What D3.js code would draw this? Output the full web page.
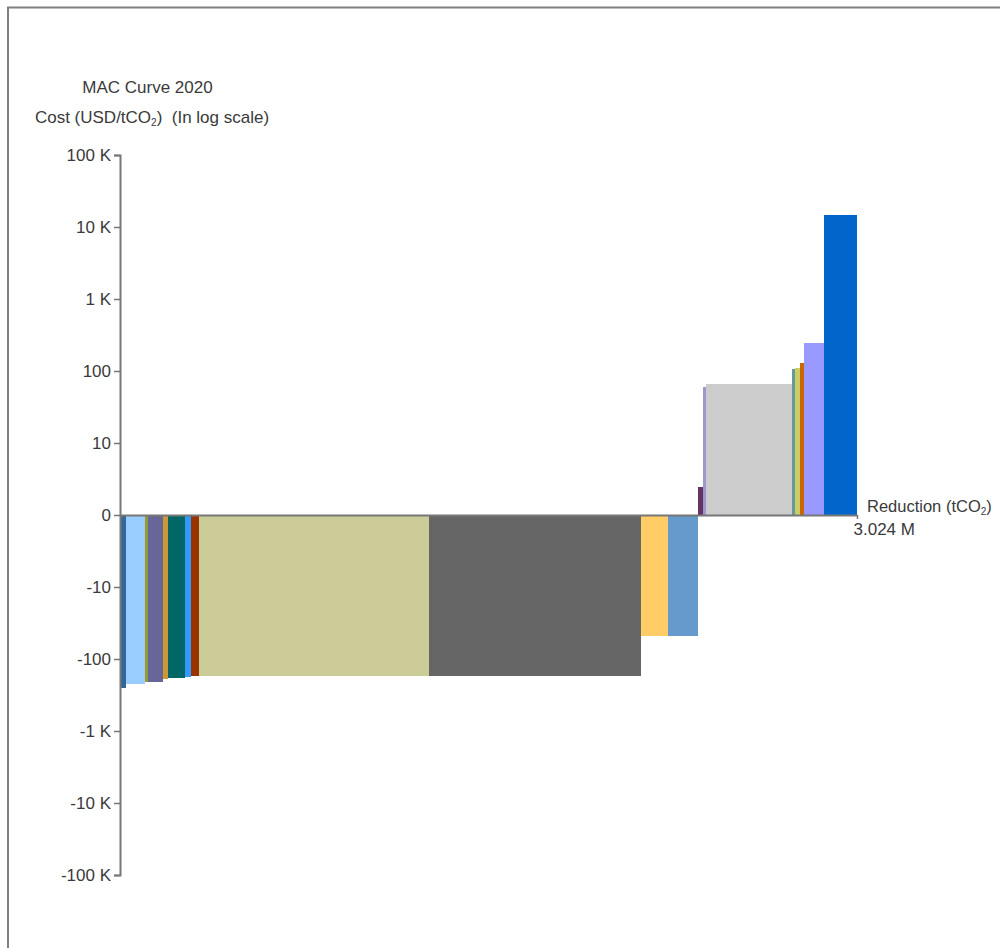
<!DOCTYPE html>
<html>
<head>
<meta charset="utf-8">
<script src="https://cdn.jsdelivr.net/npm/d3@7"></script>
<style>
  html, body { margin: 0; padding: 0; background: #fff; }
  svg { display: block; font-family: "Liberation Sans", Arial, sans-serif; }
</style>
</head>
<body>
<svg id="chart" width="1000" height="948"></svg>
<script>
// ---- data ----
const measures = ["M1","M2","M3","M4","M5","M6","M7","M8","M9","M10","M11","M12","M13","M14","M15","M16","M17","M18","M19","M20"];
const reductions = [24600, 78000, 12300, 61500, 20500, 69800, 24600, 32800, 943700, 869800, 110800, 125100, 18500, 12300, 352900, 12300, 20500, 16400, 82100, 135400];
const costs = [-255, -225, -211, -207, -188, -182, -176, -175, -171, -170, -47.5, -47.5, 3.9, 60.5, 66, 107, 110, 129, 245, 14700];
const colors = ["#336699","#99ccff","#999933","#666699","#cc9933","#006666","#3399ff","#993300","#cccc99","#666666","#ffcc66","#6699cc","#663366","#9999cc","#cccccc","#669999","#cccc66","#cc6600","#9999ff","#0066cc"];
const yTickValues = [-100000, -10000, -1000, -100, -10, 0, 10, 100, 1000, 10000, 100000];
const yTickLabels = ["-100 K","-10 K","-1 K","-100","-10","0","10","100","1 K","10 K","100 K"];
const totalReduction = 3024000;
const totalLabel = "3.024 M";

// ---- layout ----
const svg = d3.select("#chart");
const x0 = 120, x1 = 857, yTop = 155, yBot = 875;

// log-like transform: linear between -10 and 10, log10 beyond
const tf = v => Math.abs(v) < 10 ? v / 10 : Math.sign(v) * Math.log10(Math.abs(v));
const yT = d3.scaleLinear().domain([-5, 5]).range([yBot, yTop]);
const y = v => yT(tf(v));
const x = d3.scaleLinear().domain([0, totalReduction]).range([x0, x1]);

// frame
svg.append("rect").attr("x", 8).attr("y", 7.5).attr("width", 1100).attr("height", 1100)
  .attr("fill", "none").attr("stroke", "#7f7f7f").attr("stroke-width", 2);

// bars
let cum = 0;
const bars = measures.map((m, i) => {
  const b = { m, start: cum, end: cum + reductions[i], cost: costs[i], color: colors[i] };
  cum += reductions[i];
  return b;
});
svg.append("g").selectAll("rect").data(bars).join("rect")
  .attr("x", d => x(d.start))
  .attr("width", d => x(d.end) - x(d.start))
  .attr("y", d => Math.min(y(0), y(d.cost)))
  .attr("height", d => Math.abs(y(d.cost) - y(0)))
  .attr("fill", d => d.color)
  .attr("shape-rendering", "crispEdges");

// y axis
const yAxis = d3.axisLeft(yT)
  .tickValues(yTickValues.map(tf))
  .tickFormat((d, i) => yTickLabels[i])
  .tickSize(6).tickSizeOuter(6).tickPadding(3);
const gy = svg.append("g").attr("transform", `translate(${x0},0)`).call(yAxis);
gy.select(".domain").attr("stroke", "#777").attr("stroke-width", 2);
gy.selectAll(".tick line").attr("stroke", "#777").attr("stroke-width", 1.5);
gy.selectAll(".tick text").attr("fill", "#3a3a3a").style("font-size", "17px")
  .style("font-family", "'Liberation Sans', Arial, sans-serif");

// x axis
const xAxis = d3.axisBottom(x).tickValues([totalReduction]).tickFormat(() => totalLabel)
  .tickSize(4).tickSizeOuter(0);
const gx = svg.append("g").attr("transform", `translate(0,${y(0)})`).call(xAxis);
gx.select(".domain").attr("stroke", "#777").attr("stroke-width", 2);
gx.selectAll(".tick line").attr("stroke", "#777").attr("stroke-width", 1.5);
gx.selectAll(".tick text").attr("fill", "#3a3a3a").style("font-size", "17px")
  .style("font-family", "'Liberation Sans', Arial, sans-serif")
  .attr("text-anchor", "start").attr("x", -4).attr("dy", "0.9em").attr("y", 5);

// axis title x
const tx = svg.append("text").attr("x", 867).attr("y", 512).attr("fill", "#3a3a3a")
  .style("font-size", "16.5px");
tx.append("tspan").text("Reduction (tCO");
tx.append("tspan").text("2").style("font-size", "10px").attr("dy", 3);
tx.append("tspan").text(")").attr("dy", -3);

// titles
svg.append("text").attr("x", 147.5).attr("y", 93).attr("text-anchor", "middle")
  .attr("fill", "#3a3a3a").style("font-size", "17px").text("MAC Curve 2020");
const t2 = svg.append("text").attr("x", 152).attr("y", 123).attr("text-anchor", "middle")
  .attr("fill", "#3a3a3a").style("font-size", "17px");
t2.append("tspan").text("Cost (USD/tCO");
t2.append("tspan").text("2").style("font-size", "10px").attr("dy", 3);
t2.append("tspan").text(")\u00a0\u00a0(In log scale)").attr("dy", -3);
</script>
</body>
</html>
